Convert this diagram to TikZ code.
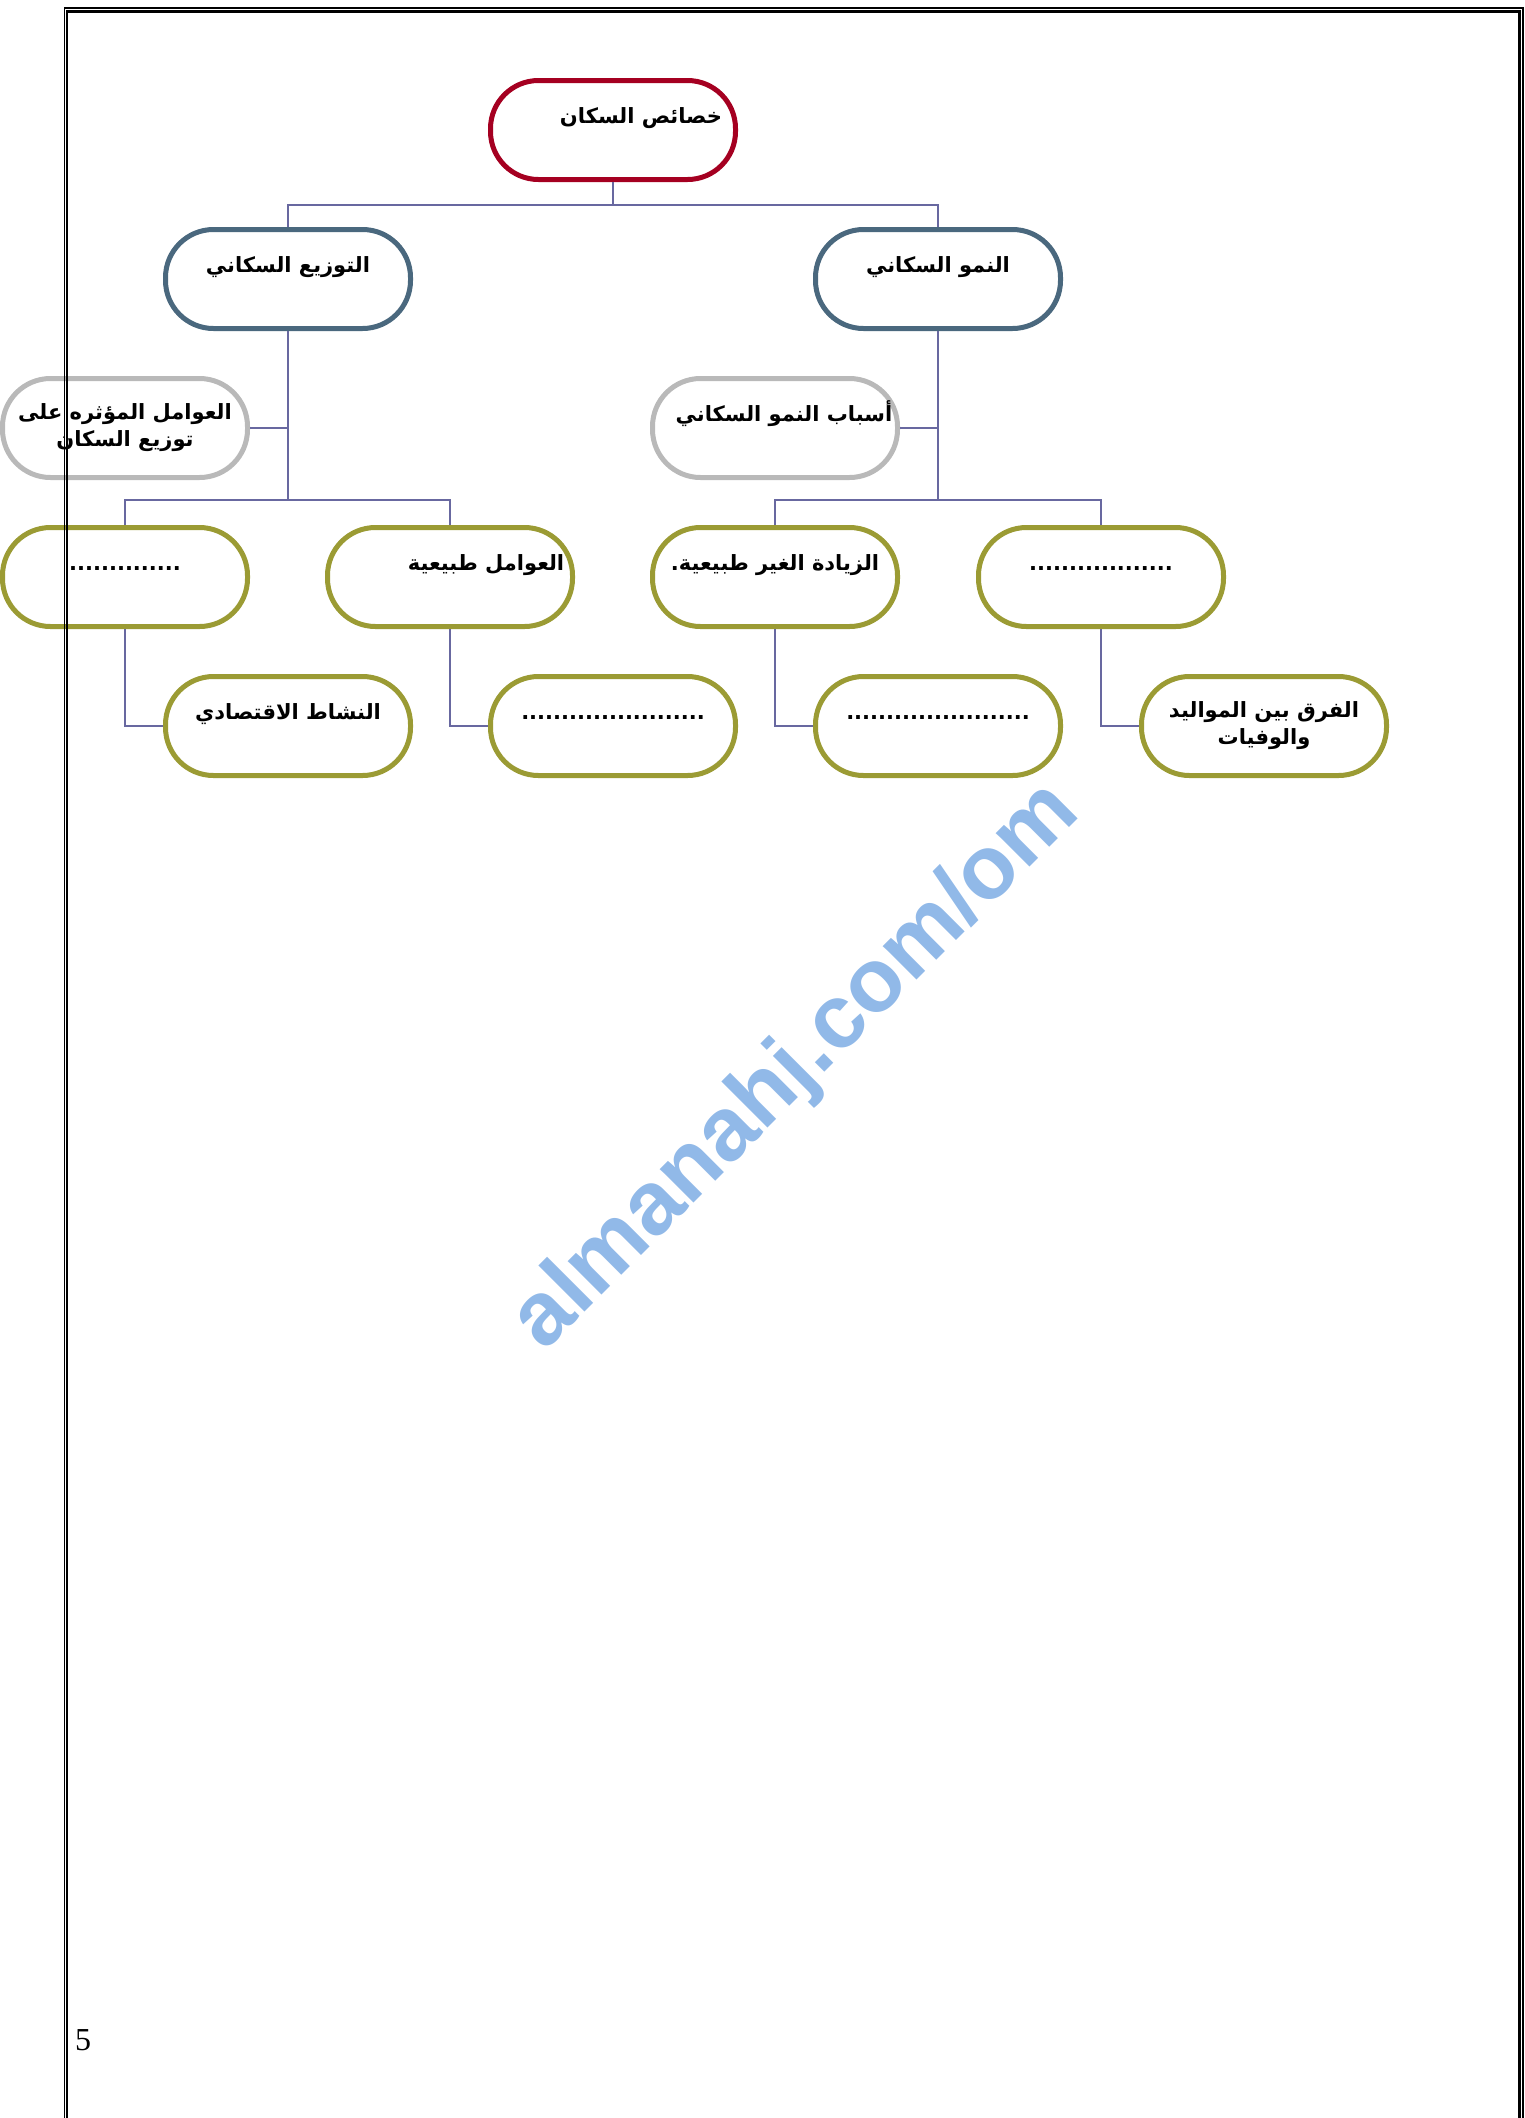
\documentclass[tikz,border=0pt]{standalone}
\usepackage{fontspec}
\setmainfont{Liberation Serif}
\newfontfamily\arabicfont[Script=Arabic]{DejaVu Sans}
\newfontfamily\markfont{Liberation Sans}
\TeXXeTstate=1
\newcommand{\ar}[1]{\beginR #1\endR}

\definecolor{rootred}{RGB}{165,0,33}
\definecolor{slate}{RGB}{74,104,126}
\definecolor{sidegray}{RGB}{185,185,185}
\definecolor{olive}{RGB}{155,155,52}
\definecolor{linkblue}{RGB}{104,104,160}
\definecolor{markblue}{RGB}{145,185,232}

\tikzstyle{box} = [rectangle, rounded corners=48pt, minimum width=245pt, minimum height=99pt, inner sep=0pt, text centered, line width=5pt, fill=white, font=\arabicfont\bfseries\fontsize{21}{27}\selectfont, text height=20pt, text depth=34pt]
\tikzstyle{rootbox} = [box, draw=rootred]
\tikzstyle{mainbox} = [box, draw=slate]
\tikzstyle{sidebox} = [box, draw=sidegray]
\tikzstyle{leafbox} = [box, draw=olive]
\tikzstyle{twolines} = [align=center, text height=, text depth=]
\tikzstyle{link} = [draw=linkblue, line width=1.6pt]
\tikzstyle{pagethin} = [line width=1.2pt]
\tikzstyle{pagethick} = [line width=2.4pt]

\begin{document}
\begin{tikzpicture}[x=1pt, y=-1pt, node distance=149pt]
		\useasboundingbox (0,0) rectangle (1525,2118);
		\node (root) [rootbox] at (613,130) {\hspace*{56pt}\ar{خصائص السكان}};
		\node (distrib) [mainbox, below of=root, xshift=-325pt] {\ar{التوزيع السكاني}};
		\node (growth) [mainbox, below of=root, xshift=325pt] {\ar{النمو السكاني}};
		\node (factors) [sidebox, twolines, below of=distrib, xshift=-163pt] {\ar{العوامل المؤثره على}\\ \ar{توزيع السكان}};
		\node (causes) [sidebox, below of=growth, xshift=-163pt] {\hspace*{18pt}\ar{أسباب النمو السكاني}};
		\node (blank1) [leafbox, below of=factors] {..............};
		\node (natural) [leafbox, below of=factors, xshift=325pt] {\hspace*{72pt}\ar{العوامل طبيعية}};
		\node (unnatural) [leafbox, below of=causes] {\ar{الزيادة الغير طبيعية.}};
		\node (blank2) [leafbox, below of=causes, xshift=326pt] {..................};
		\node (activity) [leafbox, below of=blank1, xshift=163pt] {\ar{النشاط الاقتصادي}};
		\node (blank3) [leafbox, below of=natural, xshift=163pt] {.......................};
		\node (blank4) [leafbox, below of=unnatural, xshift=163pt] {.......................};
		\node (births) [leafbox, twolines, below of=blank2, xshift=163pt] {\ar{الفرق بين المواليد}\\ \ar{والوفيات}};

		\draw [link] (root.south) -- ++(0,23) -| (distrib.north);
		\draw [link] (root.south) -- ++(0,23) -| (growth.north);
		\draw [link] (distrib.south) -- ++(0,169) -| (blank1.north);
		\draw [link] (distrib.south) -- ++(0,169) -| (natural.north);
		\draw [link] (growth.south) -- ++(0,169) -| (unnatural.north);
		\draw [link] (growth.south) -- ++(0,169) -| (blank2.north);
		\draw [link] (factors.east) -- (factors.east -| distrib.south);
		\draw [link] (causes.east) -- (causes.east -| growth.south);
		\draw [link] (blank1.south) |- (activity.west);
		\draw [link] (natural.south) |- (blank3.west);
		\draw [link] (unnatural.south) |- (blank4.west);
		\draw [link] (blank2.south) |- (births.west);

		% watermark and page number
		\node (mark) [rotate=45, text=markblue, font=\markfont\bfseries\fontsize{90}{90}\selectfont] at (797,1067) {almanahj.com/om};
		\node (pagenum) at (83,2040) {\fontsize{32}{36}\selectfont 5};

		% page border
		\draw [pagethin] (64.5,2118) -- (64.5,8) -- (1523,8) -- (1523,2118);
		\draw [pagethick] (67,2118) -- (67,11.5) -- (1519.5,11.5) -- (1519.5,2118);
\end{tikzpicture}
\end{document}
